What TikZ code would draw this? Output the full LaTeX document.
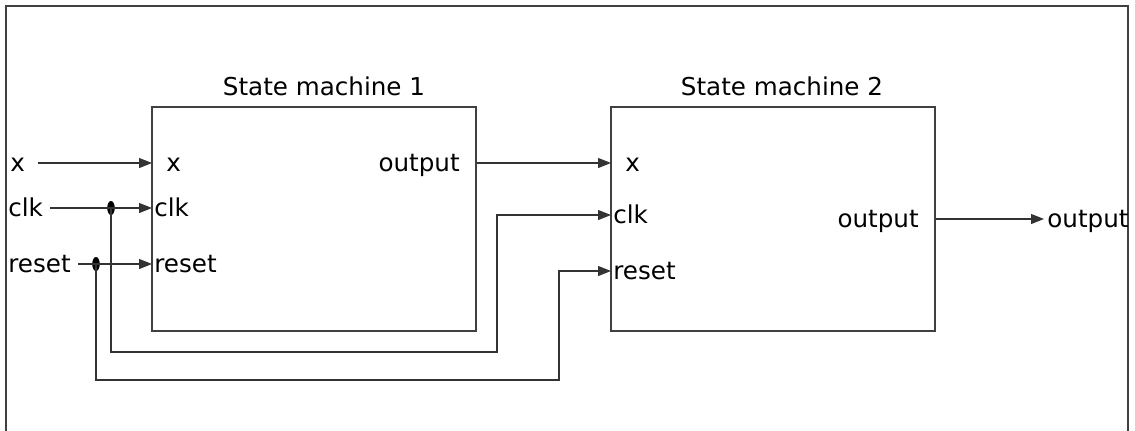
\documentclass[tikz,border=0pt]{standalone}
\usepackage{fontspec}
\setmainfont{DejaVu Sans}
\usetikzlibrary{shapes.geometric, arrows.meta, positioning, calc}

\begin{document}
\begin{tikzpicture}[
        x=0.02cm, y=-0.02cm,
        font=\fontsize{14}{16}\selectfont,
        machine/.style={rectangle, draw=black!75, line width=0.7pt, minimum width=6.48cm, minimum height=4.48cm, inner sep=0pt},
        title/.style={anchor=base, inner sep=0pt},
        portlabel/.style={anchor=base west, inner sep=0pt},
        outlabel/.style={anchor=base east, inner sep=0pt},
        wire/.style={draw=black!80, line width=0.6pt},
        signal/.style={wire, -{Triangle[length=2.6mm, width=2mm]}},
        junc/.style={ellipse, fill=black, minimum width=1.5mm, minimum height=2.8mm, inner sep=0pt}
    ]
        \useasboundingbox (0,0) rectangle (1135,430);

        % Outer frame (bottom edge runs off the page)
        \draw[draw=black!75, line width=0.9pt] (6,445) -- (6,6) -- (1128,6) -- (1128,445);

        % State machines
        \node[machine] (sm1) at (314,219) {};
        \node[title] at (324,95) {State machine 1};

        \node[machine] (sm2) at (773,219) {};
        \node[title] at (782,95) {State machine 2};

        % Ports of the machines
        \coordinate (sm1x) at (152,163);
        \coordinate (sm1clk) at (152,208);
        \coordinate (sm1reset) at (152,264);
        \coordinate (sm2x) at (611,163);
        \coordinate (sm2clk) at (611,215);
        \coordinate (sm2reset) at (611,271);
        \coordinate (sysout) at (1044,219);

        \node[portlabel] at (166,171) {x};
        \node[portlabel] at (154,216) {clk};
        \node[portlabel] at (154,272) {reset};
        \node[outlabel] at (460,171) {output};

        \node[portlabel] at (625,171) {x};
        \node[portlabel] at (613,223) {clk};
        \node[portlabel] at (613,279) {reset};
        \node[outlabel] at (919,227) {output};

        % External signals
        \node[portlabel] (inx) at (10,171) {x};
        \node[portlabel] (inclk) at (8,216) {clk};
        \node[portlabel] (inreset) at (8,272) {reset};
        \node[portlabel] (outsig) at (1047,227) {output};

        % Junctions
        \node[junc] (jclk) at (111,208) {};
        \node[junc] (jreset) at (96,264) {};

        % Turning points of the feedback wires
        \coordinate (clkturn) at (497,352);
        \coordinate (resetturn) at (559,380);

        % Inputs to machine 1
        \draw[signal, shorten <=7pt] (inx.east |- sm1x) -- (sm1x);
        \draw[signal, shorten <=4pt] (inclk.east |- sm1clk) -- (sm1clk);
        \draw[signal, shorten <=4pt] (inreset.east |- sm1reset) -- (sm1reset);

        % Machine 1 to machine 2
        \draw[signal] (sm1.east |- sm1x) -- (sm2x);
        \draw[signal] (jclk.center) |- (clkturn) |- (sm2clk);
        \draw[signal] (jreset.center) |- (resetturn) |- (sm2reset);

        % Output of machine 2
        \draw[signal] (sm2.east |- sysout) -- (sysout);

    \end{tikzpicture}
\end{document}
